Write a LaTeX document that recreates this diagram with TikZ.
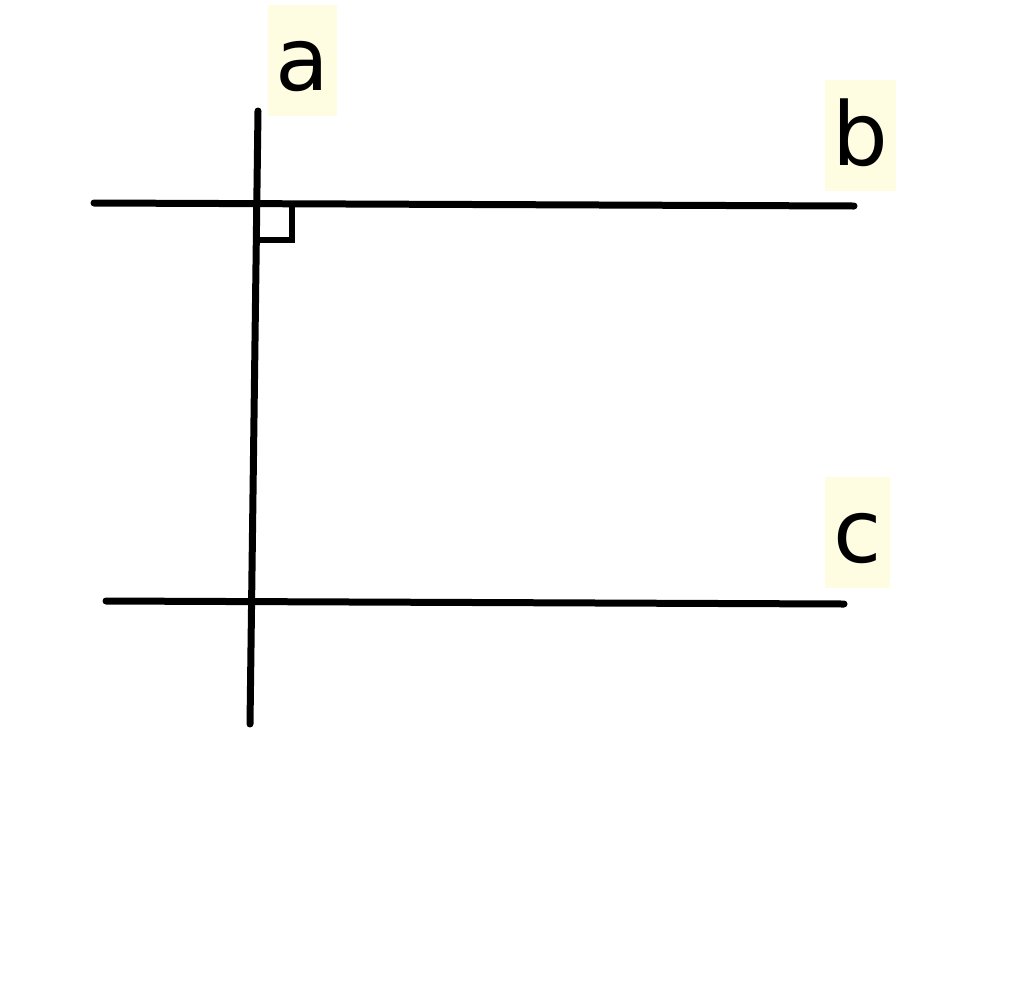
\documentclass[tikz,border=0pt]{standalone}
\usepackage{fontspec}
\setmainfont{DejaVu Sans}
\usetikzlibrary{calc}
\definecolor{labelbg}{HTML}{FFFDE1}
\tikzset{
    line/.style={line width=0.14cm, line cap=round},
    lbl/.style={fill=labelbg, inner xsep=0.16cm, inner ysep=0pt,
        text height=1.7cm, text depth=0.52cm, anchor=base,
        font=\fontsize{50}{50}\selectfont}
}
\begin{document}
\begin{tikzpicture}[x=0.02cm, y=-0.02cm]
        \useasboundingbox (0,0) rectangle (1024,981);
        % --- Lines ---
        \coordinate (a1) at (258,111);
        \coordinate (a2) at (250,724);
        \coordinate (b1) at (94,203);
        \coordinate (b2) at (854,206);
        \coordinate (c1) at (106,601);
        \coordinate (c2) at (844,604);
        \draw[line] (a1) -- (a2);
        \draw[line] (b1) -- (b2);
        \draw[line] (c1) -- (c2);
        % --- Right angle ---
        \coordinate (o) at (257,205);
        \draw[line width=0.12cm] ($(o)+(35,0)$) -- ++(0,35) -- ++(-35,0);
        % --- Labels ---
        \node[lbl] (la) at (302.5,90) {a};
        \node[lbl] (lb) at (860.5,165) {b};
        \node[lbl] (lc) at (857.5,562) {c};
    \end{tikzpicture}
\end{document}
